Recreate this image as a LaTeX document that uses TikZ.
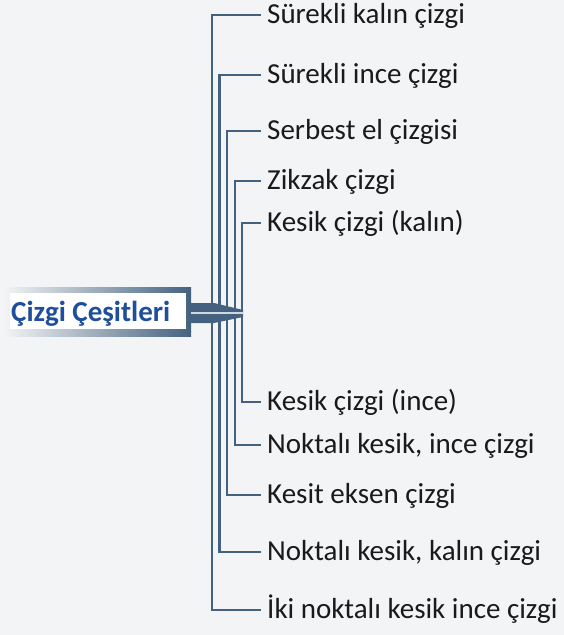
\documentclass[tikz,border=0pt]{standalone}
\usepackage{fontspec}
\setmainfont{Carlito}
\usetikzlibrary{calc}
\definecolor{bgc}{HTML}{F3F4F5}
\definecolor{linec}{HTML}{44627F}
\definecolor{titlec}{HTML}{1F4E9C}
\definecolor{textc}{HTML}{1A1A1A}
\begin{document}
\begin{tikzpicture}[x=1pt,y=-1pt,
  lbl/.style={anchor=west,inner sep=0pt,text height=22pt,text depth=6pt,font=\fontsize{29}{32}\selectfont,text=textc},
  brk/.style={draw=linec,line width=2.3pt},
  tk/.style={xshift=-6pt}]
\fill[bgc] (0,0) rectangle (564,635);
\useasboundingbox (0,0) rectangle (564,635);
% label nodes
\node[lbl] (l1) at (267,15) {Sürekli kalın çizgi};
\node[lbl] (l2) at (267,75) {Sürekli ince çizgi};
\node[lbl] (l3) at (267,131) {Serbest el çizgisi};
\node[lbl] (l4) at (267,181) {Zikzak çizgi};
\node[lbl] (l5) at (267,223) {Kesik çizgi (kalın)};
\node[lbl] (l6) at (267,402) {Kesik çizgi (ince)};
\node[lbl] (l7) at (267,445) {Noktalı kesik, ince çizgi};
\node[lbl] (l8) at (267,495) {Kesit eksen çizgi};
\node[lbl] (l9) at (267,552) {Noktalı kesik, kalın çizgi};
\node[lbl] (l10) at (267,610) {İki noktalı kesik ince çizgi};
% brackets
\draw[brk] ([tk]l1.west) -| (212,313) |- ([tk]l10.west);
\draw[brk] ([tk]l2.west) -| (219.5,313) |- ([tk]l9.west);
\draw[brk] ([tk]l3.west) -| (227,313) |- ([tk]l8.west);
\draw[brk] ([tk]l4.west) -| (235,313) |- ([tk]l7.west);
\draw[brk] ([tk]l5.west) -| (242,313) |- ([tk]l6.west);
% title frame
\shade[left color=bgc,right color=linec,shading angle=90] (4,287) rectangle (191,336);
\fill[linec] (189,287) rectangle (191,336);
\fill[linec] (189,303) -- (214,303) -- (243,310) -- (243,317) -- (214,323) -- (189,323) -- cycle;
\draw[white!75!linec,line width=1.4pt] (191,313) -- (243,313);
\node[fill=white,minimum width=176pt,minimum height=36pt,inner sep=0pt] (box) at (98,311) {};
\node[anchor=base west,inner sep=0pt,font=\bfseries\fontsize{29}{32}\selectfont,text=titlec] (title) at (11,321) {Çizgi Çeşitleri};
\end{tikzpicture}
\end{document}
